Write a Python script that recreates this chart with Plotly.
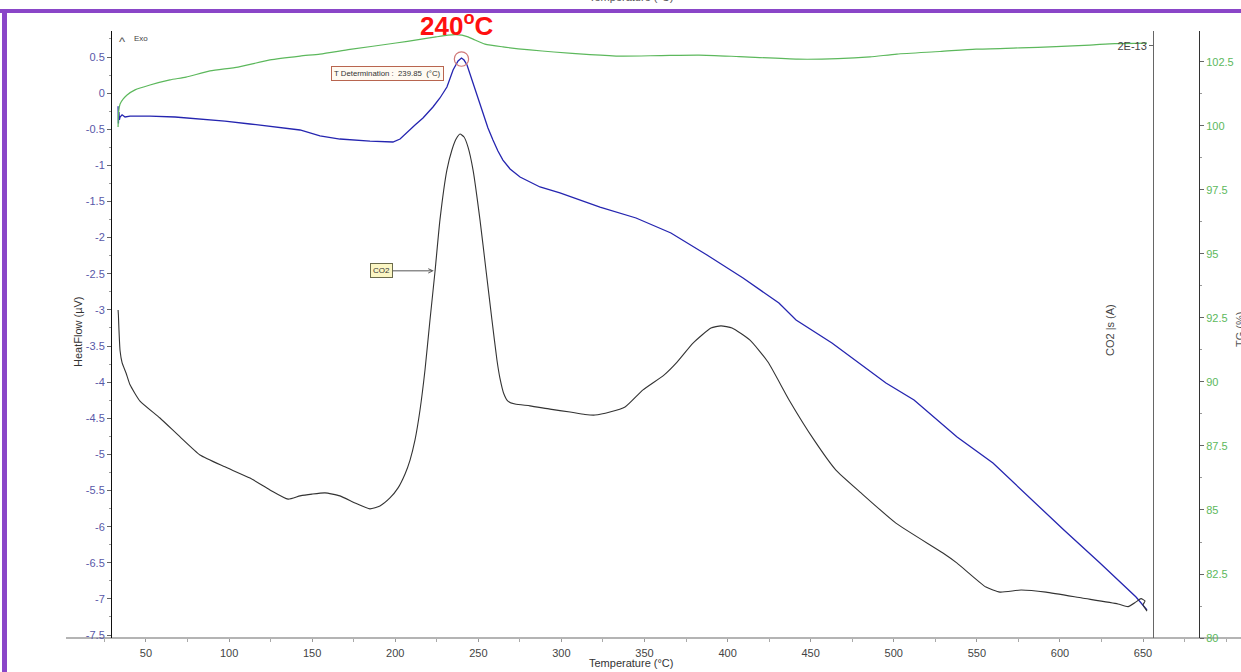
import plotly.graph_objects as go

# ---------------- data ----------------
x_ticks = [50, 100, 150, 200, 250, 300, 350, 400, 450, 500, 550, 600, 650]
hf_ticks = [0.5, 0, -0.5, -1, -1.5, -2, -2.5, -3, -3.5, -4, -4.5, -5, -5.5, -6, -6.5, -7, -7.5]
tg_ticks = [102.5, 100, 97.5, 95, 92.5, 90, 87.5, 85, 82.5, 80]
co2_ticks = [2.0]
co2_tick_labels = ["2E-13"]

# HeatFlow (uV) vs temperature (C)
hf_T = [33.2, 33.4, 33.7, 34.0, 34.4, 35.6, 37.4, 40.4, 52.4, 67.5, 82.5, 97.5, 112.6, 127.6, 142.7,
        154.7, 166.7, 184.8, 198.6, 202.9, 207.1, 211.9, 216.7, 222.7, 226.9, 231.1, 234.8, 237.8,
        239.85, 241.4, 243.2, 246.8, 249.8, 252.8, 255.8, 258.8, 261.8, 264.8, 269.1, 275.1, 281.1,
        287.1, 299.1, 311.2, 323.2, 344.9, 365.9, 387.6, 409.3, 430.9, 441.2, 462.8, 495.3, 512.2,
        538.1, 559.7, 581.4, 602.4, 624.1, 645.8, 652.4]
hf_V = [-0.18, -0.42, -0.26, -0.37, -0.33, -0.30, -0.33, -0.317, -0.317, -0.330, -0.358, -0.386,
        -0.427, -0.469, -0.510, -0.593, -0.635, -0.663, -0.676, -0.635, -0.538, -0.441, -0.344,
        -0.192, -0.067, 0.085, 0.320, 0.445, 0.486, 0.458, 0.389, 0.140, -0.095, -0.303, -0.483,
        -0.649, -0.801, -0.926, -1.050, -1.161, -1.230, -1.299, -1.382, -1.479, -1.576, -1.728,
        -1.936, -2.240, -2.559, -2.905, -3.140, -3.458, -4.012, -4.247, -4.759, -5.119, -5.590,
        -6.047, -6.503, -6.974, -7.154]

# CO2 ion current (units of 1E-13 A)
co2_T = [33.2, 33.4, 33.6, 33.9, 34.4, 35.6, 38.0, 40.4, 46.4, 58.4, 70.5, 82.5, 97.5, 112.6, 124.6,
         135.5, 142.7, 149.9, 157.7, 166.7, 175.8, 184.8, 190.8, 196.8, 201.7, 205.9, 208.9, 211.9,
         214.9, 217.9, 220.9, 223.9, 226.9, 231.1, 234.1, 236.6, 239.0, 241.4, 243.8, 246.8, 251.0,
         254.6, 258.2, 261.2, 263.0, 265.4, 267.8, 272.1, 281.1, 293.1, 305.2, 314.2, 320.2, 329.2,
         338.3, 349.1, 361.7, 369.6, 379.2, 390.0, 396.0, 402.7, 413.5, 424.3, 437.0, 452.0, 465.2,
         480.3, 501.3, 529.6, 538.1, 555.5, 563.9, 576.6, 591.6, 613.3, 634.9, 641.0, 645.8, 648.8,
         651.2, 650.0, 652.4]
co2_I = [1.108, 1.09, 1.06, 1.02, 0.97, 0.93, 0.895, 0.855, 0.800, 0.743, 0.679, 0.618, 0.578, 0.540,
         0.500, 0.469, 0.480, 0.486, 0.490, 0.480, 0.456, 0.436, 0.446, 0.473, 0.507, 0.554, 0.601,
         0.669, 0.770, 0.905, 1.074, 1.236, 1.412, 1.581, 1.648, 1.685, 1.702, 1.692, 1.658, 1.581,
         1.412, 1.243, 1.074, 0.939, 0.878, 0.824, 0.800, 0.790, 0.784, 0.773, 0.763, 0.755, 0.753,
         0.763, 0.780, 0.838, 0.888, 0.932, 0.996, 1.047, 1.054, 1.047, 1.006, 0.932, 0.804, 0.669,
         0.567, 0.490, 0.388, 0.287, 0.253, 0.172, 0.155, 0.162, 0.155, 0.135, 0.115, 0.106, 0.122,
         0.133, 0.125, 0.112, 0.091]

# TG (%)
tg_T = [33.2, 33.5, 34.4, 36.2, 38.6, 43.4, 52.4, 64.4, 74.1, 88.5, 105.4, 124.6, 142.7, 154.7, 172.8,
        200.4, 214.9, 224.5, 231.7, 236.0, 240.2, 243.8, 248.0, 254.0, 264.8, 281.1, 295.5, 317.2,
        335.9, 359.3, 382.8, 406.9, 442.4, 466.4, 485.7, 501.9, 527.8, 549.5, 576.0, 597.6, 618.1,
        633.1, 652.4]
tg_P = [99.96, 100.55, 100.86, 101.05, 101.21, 101.41, 101.60, 101.80, 101.91, 102.15, 102.30, 102.58,
        102.73, 102.81, 102.99, 103.24, 103.38, 103.48, 103.55, 103.57, 103.55, 103.48, 103.36, 103.20,
        103.09, 102.97, 102.89, 102.79, 102.73, 102.75, 102.77, 102.71, 102.61, 102.63, 102.70, 102.81,
        102.91, 103.00, 103.05, 103.10, 103.16, 103.22, 103.24]

peak_T = 239.85
peak_HF = 0.472
co2_label_T = 223.2
co2_label_I = 1.24

# ---------------- layout helpers (pixel -> paper) ----------------
W, H = 1241, 672
ML, MR, MT, MB = 66, 0, 31, 34
PW, PH = W - ML - MR, H - MT - MB


def px(xp):
    return (xp - ML) / PW


def py(yp):
    return 1 - (yp - MT) / PH


def fmt(v):
    return "%g" % v


FONT = "Liberation Sans, Arial, sans-serif"

fig = go.Figure()
fig.add_trace(go.Scatter(x=tg_T, y=tg_P, yaxis="y3", mode="lines",
                         line=dict(color="#5cb85c", width=1.2, shape="spline", smoothing=0.6),
                         showlegend=False, hoverinfo="skip"))
fig.add_trace(go.Scatter(x=co2_T, y=co2_I, yaxis="y2", mode="lines",
                         line=dict(color="#333333", width=1.1, shape="spline", smoothing=0.5),
                         showlegend=False, hoverinfo="skip"))
fig.add_trace(go.Scatter(x=hf_T, y=hf_V, yaxis="y", mode="lines",
                         line=dict(color="#2525b0", width=1.3),
                         showlegend=False, hoverinfo="skip"))

fig.update_layout(
    width=W, height=H,
    margin=dict(l=ML, r=MR, t=MT, b=MB, pad=0, autoexpand=False),
    paper_bgcolor="white", plot_bgcolor="white",
    font=dict(family=FONT, size=11, color="#444"),
    xaxis=dict(domain=[0, 1], range=[1.86, 708.97], anchor="free", position=0, automargin=False,
               showline=True, linecolor="#b4b4b4", linewidth=2,
               ticks="outside", ticklen=3, tickcolor="#999",
               tickmode="array", tickvals=x_ticks, ticktext=[fmt(v) for v in x_ticks],
               tickfont=dict(size=11, color="#444"), ticklabelstandoff=2,
               showgrid=False, zeroline=False,
               minor=dict(tickmode="linear", tick0=0, dtick=25, ticks="outside",
                          ticklen=3, tickcolor="#aaa", showgrid=False)),
    yaxis=dict(domain=[0, 1], range=[-7.541, 0.86], anchor="free", position=px(111), side="left",
               automargin=False,
               showline=True, linecolor="#111", linewidth=1,
               ticks="outside", ticklen=4, tickcolor="#666",
               tickmode="array", tickvals=hf_ticks, ticktext=[fmt(v) for v in hf_ticks],
               tickfont=dict(size=11, color="#5858a8"),
               showgrid=False, zeroline=False,
               minor=dict(tickmode="linear", tick0=0, dtick=0.25, ticks="outside",
                          ticklen=2, tickcolor="#999", showgrid=False)),
    yaxis2=dict(domain=[0, 1], range=[0, 2.05], overlaying="y", anchor="free", position=px(1153),
                side="left", automargin=False, showline=True, linecolor="#666", linewidth=1,
                ticks="outside", ticklen=4, tickcolor="#666",
                tickmode="array", tickvals=co2_ticks, ticktext=co2_tick_labels,
                tickfont=dict(size=11, color="#444"),
                showgrid=False, zeroline=False),
    yaxis3=dict(domain=[0, 1], range=[80, 103.71], overlaying="y", anchor="free", position=px(1199),
                side="right", automargin=False, showline=True, linecolor="#333", linewidth=1,
                ticks="outside", ticklen=4, tickcolor="#666",
                tickmode="array", tickvals=tg_ticks, ticktext=[fmt(v) for v in tg_ticks],
                tickfont=dict(size=11, color="#5cb85c"),
                showgrid=False, zeroline=False,
                minor=dict(tickmode="linear", tick0=0, dtick=1.25, ticks="outside",
                           ticklen=2, tickcolor="#999", showgrid=False)),
)

# purple frame of the slide
fig.add_shape(type="line", xref="paper", yref="paper", x0=px(0), x1=px(1241), y0=py(11), y1=py(11),
              line=dict(color="#8a46c8", width=4), layer="above")
fig.add_shape(type="line", xref="paper", yref="paper", x0=px(4.5), x1=px(4.5), y0=py(9), y1=py(672),
              line=dict(color="#8a46c8", width=5), layer="above")

# peak marker circle
fig.add_shape(type="circle", xref="x", yref="y",
              x0=peak_T - 4.3, x1=peak_T + 4.3, y0=peak_HF - 0.1, y1=peak_HF + 0.1,
              line=dict(color="#d07878", width=1.2))


def pann(text, xp, yp, size, color, angle=0):
    return dict(text=text, xref="paper", yref="paper", x=px(xp), y=py(yp),
                xanchor="center", yanchor="middle", textangle=angle, showarrow=False,
                font=dict(size=size, color=color, family=FONT))


ann = [
    pann("Temperature (°C)", 631, -3, 11, "#555"),
    pann("<b>240<sup>o</sup>C</b>", 457, 25, 26, "#ff1010"),
    pann("^", 122, 41, 13, "#555"),
    pann("Exo", 141, 38, 8, "#444"),
    pann("HeatFlow (µV)", 78, 332, 11, "#333", angle=-90),
    pann("CO2 |s (A)", 1110, 330, 11, "#444", angle=-90),
    pann("TG (%)", 1240, 330, 11, "#555", angle=-90),
    pann("Temperature (°C)", 631, 663, 11, "#333"),
    dict(text="T Determination :  239.85  (°C)", xref="x", yref="y", x=195.6, y=0.278,
         xanchor="center", yanchor="middle",
         showarrow=False, font=dict(size=7.8, color="#333"),
         bgcolor="#fffaf2", bordercolor="#b8654f", borderwidth=1, borderpad=2),
    dict(text="CO2", xref="x", yref="y2", x=co2_label_T, y=co2_label_I,
         showarrow=True, ax=-52, ay=0, arrowhead=5, arrowsize=0.9, arrowwidth=1,
         arrowcolor="#555", font=dict(size=8, color="#333"),
         bgcolor="#fbf6c4", bordercolor="#6b6b4b", borderwidth=1, borderpad=2),
]
fig.update_layout(annotations=ann)

fig.write_html("out.html", config={"displayModeBar": False},
               post_script="document.body.style.margin='0';document.body.style.overflow='hidden';")
